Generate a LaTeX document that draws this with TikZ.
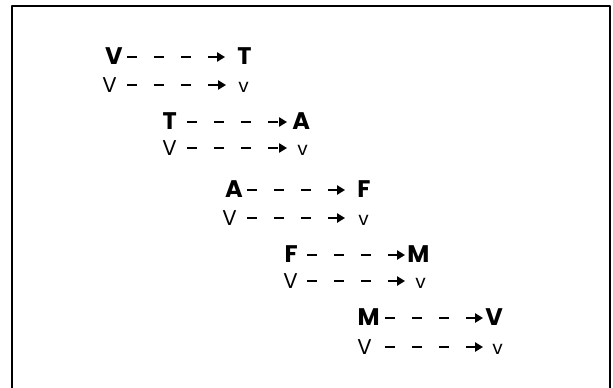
\documentclass[tikz,border=0pt]{standalone}
\usepackage{fontspec}
\setmainfont{Poppins}
\usetikzlibrary{arrows.meta}
\tikzset{
	boldletter/.style={font=\fontsize{18}{20}\selectfont\bfseries, inner sep=0pt, text height=11.5pt, text depth=0pt},
	lightletter/.style={font=\fontsize{16}{18}\selectfont, inner sep=0pt, text height=11.5pt, text depth=0pt},
	lowletter/.style={font=\fontsize{14}{16}\selectfont, inner sep=0pt, text height=11.5pt, text depth=0pt},
	dasharrow/.style 2 args={line width=1.2pt, dash pattern=on 7.5pt off 12.75pt, -{Triangle[length=6pt,width=7pt]}, shorten <=#1, shorten >=#2}
}
\begin{document}
\begin{tikzpicture}[x=0.75pt,y=-0.75pt,line join = round]
			\useasboundingbox (0,0) rectangle (613,387);
			\draw[line width=1.2pt] (12,400)--(12,6)--(610,6)--(610,400);
			\node[boldletter,anchor=east] (V1) at (123,57) {V};
			\node[boldletter,anchor=west] (T1) at (237,57) {T};
			\node[lightletter,anchor=east] (V1b) at (117,85) {V};
			\node[lowletter,anchor=west] (v1) at (238,85) {v};
			\node[boldletter,anchor=east] (T2) at (177,122) {T};
			\node[boldletter,anchor=west] (A2) at (292,122) {A};
			\node[lightletter,anchor=east] (V2b) at (177,148) {V};
			\node[lowletter,anchor=west] (v2) at (297,148) {v};
			\node[boldletter,anchor=east] (A3) at (243,190) {A};
			\node[boldletter,anchor=west] (F3) at (357,190) {F};
			\node[lightletter,anchor=east] (V3b) at (237,218) {V};
			\node[lowletter,anchor=west] (v3) at (358,218) {v};
			\node[boldletter,anchor=east] (F4) at (298,255) {F};
			\node[boldletter,anchor=west] (M4) at (407,255) {M};
			\node[lightletter,anchor=east] (V4b) at (298,281) {V};
			\node[lowletter,anchor=west] (v4) at (415,281) {v};
			\node[boldletter,anchor=east] (M5) at (380,318) {M};
			\node[boldletter,anchor=west] (V5) at (485,318) {V};
			\node[lightletter,anchor=east] (V5b) at (372,347) {V};
			\node[lowletter,anchor=west] (v5) at (492,347) {v};
			\draw[dasharrow={3pt}{9pt}] (V1.east)--(T1.west);
			\draw[dasharrow={7.5pt}{9pt}] (V1b.east)--(v1.west);
			\draw[dasharrow={7.5pt}{3.75pt}] (T2.east)--(A2.west);
			\draw[dasharrow={7.5pt}{7.5pt}] (V2b.east)--(v2.west);
			\draw[dasharrow={3pt}{9pt}] (A3.east)--(F3.west);
			\draw[dasharrow={7.5pt}{9.75pt}] (V3b.east)--(v3.west);
			\draw[dasharrow={6.75pt}{1.5pt}] (F4.east)--(M4.west);
			\draw[dasharrow={6.75pt}{7.5pt}] (V4b.east)--(v4.west);
			\draw[dasharrow={3.75pt}{1.5pt}] (M5.east)--(V5.west);
			\draw[dasharrow={9.75pt}{6.75pt}] (V5b.east)--(v5.west);
		\end{tikzpicture}
\end{document}
